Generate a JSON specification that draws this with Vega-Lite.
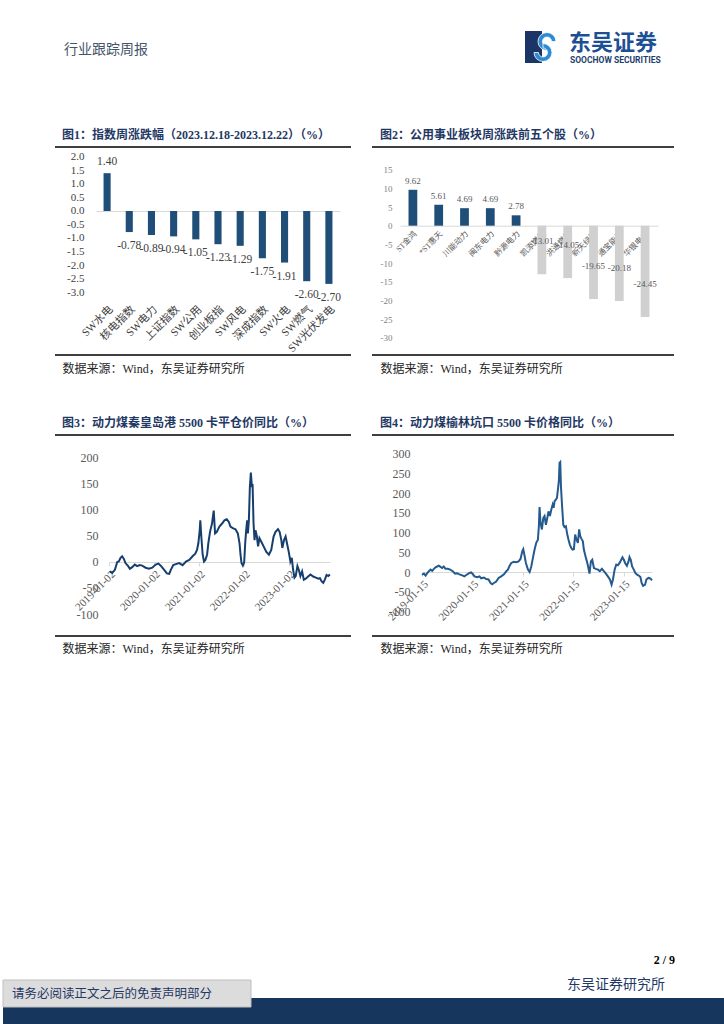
{
  "$schema": "https://vega.github.io/schema/vega-lite/v6.json",
  "padding": 0,
  "background": "white",
  "columns": 4,
  "spacing": 0,
  "bounds": "flush",
  "config": {
    "view": {"stroke": null},
    "locale": {"number": {"decimal": ".", "thousands": ",", "grouping": [3], "currency": ["", ""], "minus": "-"}},
    "font": "Liberation Serif, Noto Sans CJK SC",
    "concat": {"spacing": 0},
    "axis": {"grid": false, "labelFlush": false, "labelOverlap": false, "labelBound": false, "labelFont": "Liberation Serif, Noto Sans CJK SC", "titleFont": "Liberation Serif, Noto Sans CJK SC"},
    "title": {"font": "Liberation Serif, Noto Sans CJK SC"},
    "text": {"font": "Liberation Serif, Noto Sans CJK SC"}
  },
  "datasets": {
    "blank": [{}],
    "fig1": [
      {"name": "SW水电", "v": 1.40},
      {"name": "核电指数", "v": -0.78},
      {"name": "SW电力", "v": -0.89},
      {"name": "上证指数", "v": -0.94},
      {"name": "SW公用", "v": -1.05},
      {"name": "创业板指", "v": -1.23},
      {"name": "SW风电", "v": -1.29},
      {"name": "深成指数", "v": -1.75},
      {"name": "SW火电", "v": -1.91},
      {"name": "SW燃气", "v": -2.60},
      {"name": "SW光伏发电", "v": -2.70}
    ],
    "fig2": [
      {"name": "ST金鸿", "v": 9.62},
      {"name": "*ST惠天", "v": 5.61},
      {"name": "川能动力", "v": 4.69},
      {"name": "闽东电力", "v": 4.69},
      {"name": "黔源电力", "v": 2.78},
      {"name": "凯添燃气", "v": -13.01},
      {"name": "洪通燃气", "v": -14.05},
      {"name": "新天绿能", "v": -19.65},
      {"name": "通宝能源", "v": -20.18},
      {"name": "华银电力", "v": -24.45}
    ],
    "fig3": [
      {"d": "2019-01-07", "v": -18}, {"d": "2019-01-28", "v": -21}, {"d": "2019-02-19", "v": -15}, {"d": "2019-03-10", "v": 0},
      {"d": "2019-03-23", "v": 1}, {"d": "2019-04-06", "v": 8}, {"d": "2019-04-19", "v": 11}, {"d": "2019-05-03", "v": 6},
      {"d": "2019-05-16", "v": -2}, {"d": "2019-06-07", "v": -8}, {"d": "2019-06-21", "v": -13}, {"d": "2019-07-10", "v": -10},
      {"d": "2019-07-31", "v": -5}, {"d": "2019-08-19", "v": -8}, {"d": "2019-09-08", "v": -6}, {"d": "2019-09-29", "v": -7},
      {"d": "2019-10-27", "v": -11}, {"d": "2019-11-23", "v": -13}, {"d": "2019-12-20", "v": -11}, {"d": "2020-01-17", "v": -5},
      {"d": "2020-02-08", "v": -3}, {"d": "2020-02-27", "v": -7}, {"d": "2020-03-26", "v": -15}, {"d": "2020-04-17", "v": -22},
      {"d": "2020-05-06", "v": -23}, {"d": "2020-05-19", "v": -15}, {"d": "2020-06-08", "v": -6}, {"d": "2020-06-29", "v": -4},
      {"d": "2020-07-26", "v": -2}, {"d": "2020-08-23", "v": -6}, {"d": "2020-09-19", "v": 1}, {"d": "2020-10-16", "v": 4},
      {"d": "2020-11-12", "v": 11}, {"d": "2020-12-04", "v": 16}, {"d": "2020-12-18", "v": 23}, {"d": "2020-12-29", "v": 36},
      {"d": "2021-01-09", "v": 61}, {"d": "2021-01-14", "v": 80}, {"d": "2021-01-22", "v": 49}, {"d": "2021-02-02", "v": 14},
      {"d": "2021-02-13", "v": 1}, {"d": "2021-02-24", "v": 4}, {"d": "2021-03-10", "v": 14}, {"d": "2021-03-20", "v": 36},
      {"d": "2021-04-03", "v": 58}, {"d": "2021-04-19", "v": 74}, {"d": "2021-05-03", "v": 99}, {"d": "2021-05-14", "v": 55},
      {"d": "2021-05-28", "v": 58}, {"d": "2021-06-18", "v": 68}, {"d": "2021-07-10", "v": 74}, {"d": "2021-07-29", "v": 80},
      {"d": "2021-08-17", "v": 82}, {"d": "2021-09-03", "v": 77}, {"d": "2021-09-16", "v": 68}, {"d": "2021-10-05", "v": 65},
      {"d": "2021-10-27", "v": 63}, {"d": "2021-11-15", "v": 55}, {"d": "2021-11-29", "v": 36}, {"d": "2021-12-07", "v": 14},
      {"d": "2021-12-15", "v": -2}, {"d": "2021-12-26", "v": -7}, {"d": "2022-01-06", "v": 0}, {"d": "2022-01-14", "v": 36},
      {"d": "2022-01-22", "v": 61}, {"d": "2022-01-30", "v": 80}, {"d": "2022-02-05", "v": 55}, {"d": "2022-02-13", "v": 80},
      {"d": "2022-02-21", "v": 144}, {"d": "2022-03-01", "v": 172}, {"d": "2022-03-10", "v": 144}, {"d": "2022-03-15", "v": 150},
      {"d": "2022-03-23", "v": 74}, {"d": "2022-03-31", "v": 42}, {"d": "2022-04-08", "v": 61}, {"d": "2022-04-19", "v": 49},
      {"d": "2022-04-29", "v": 30}, {"d": "2022-05-10", "v": 46}, {"d": "2022-05-25", "v": 39}, {"d": "2022-06-13", "v": 30},
      {"d": "2022-07-04", "v": 20}, {"d": "2022-07-26", "v": 14}, {"d": "2022-08-14", "v": 23}, {"d": "2022-09-02", "v": 49},
      {"d": "2022-09-18", "v": 58}, {"d": "2022-10-08", "v": 63}, {"d": "2022-10-21", "v": 58}, {"d": "2022-11-04", "v": 42},
      {"d": "2022-11-12", "v": 27}, {"d": "2022-11-26", "v": 42}, {"d": "2022-12-09", "v": 49}, {"d": "2022-12-20", "v": 36},
      {"d": "2023-01-03", "v": 20}, {"d": "2023-01-17", "v": 1}, {"d": "2023-01-28", "v": 8}, {"d": "2023-02-08", "v": -15},
      {"d": "2023-02-19", "v": -30}, {"d": "2023-03-01", "v": -27}, {"d": "2023-03-15", "v": -8}, {"d": "2023-03-26", "v": -15},
      {"d": "2023-04-08", "v": -27}, {"d": "2023-04-22", "v": -18}, {"d": "2023-05-06", "v": -34}, {"d": "2023-05-22", "v": -32},
      {"d": "2023-06-10", "v": -28}, {"d": "2023-06-29", "v": -24}, {"d": "2023-07-21", "v": -28}, {"d": "2023-08-12", "v": -30},
      {"d": "2023-08-31", "v": -32}, {"d": "2023-09-14", "v": -31}, {"d": "2023-09-27", "v": -37}, {"d": "2023-10-11", "v": -40},
      {"d": "2023-10-24", "v": -34}, {"d": "2023-11-07", "v": -25}, {"d": "2023-11-21", "v": -27}, {"d": "2023-12-04", "v": -24}
    ],
    "fig4": [
      {"d": "2019-01-15", "v": -7}, {"d": "2019-01-29", "v": -4}, {"d": "2019-02-10", "v": -9}, {"d": "2019-02-22", "v": -3},
      {"d": "2019-03-06", "v": 2}, {"d": "2019-03-18", "v": 6}, {"d": "2019-03-30", "v": 3}, {"d": "2019-04-11", "v": 8},
      {"d": "2019-04-23", "v": 12}, {"d": "2019-05-05", "v": 14}, {"d": "2019-05-17", "v": 16}, {"d": "2019-05-29", "v": 13},
      {"d": "2019-06-10", "v": 10}, {"d": "2019-06-22", "v": 14}, {"d": "2019-07-04", "v": 8}, {"d": "2019-07-21", "v": 8},
      {"d": "2019-08-07", "v": 6}, {"d": "2019-08-26", "v": 2}, {"d": "2019-09-12", "v": -4}, {"d": "2019-09-27", "v": -3},
      {"d": "2019-10-13", "v": -6}, {"d": "2019-10-30", "v": -8}, {"d": "2019-11-18", "v": -11}, {"d": "2019-12-05", "v": -7},
      {"d": "2019-12-22", "v": -3}, {"d": "2020-01-06", "v": -1}, {"d": "2020-01-18", "v": -5}, {"d": "2020-01-30", "v": -11},
      {"d": "2020-02-19", "v": -13}, {"d": "2020-03-07", "v": -11}, {"d": "2020-03-19", "v": -16}, {"d": "2020-04-08", "v": -14},
      {"d": "2020-04-24", "v": -18}, {"d": "2020-05-11", "v": -19}, {"d": "2020-05-26", "v": -28}, {"d": "2020-06-07", "v": -31},
      {"d": "2020-06-19", "v": -28}, {"d": "2020-07-06", "v": -24}, {"d": "2020-07-23", "v": -15}, {"d": "2020-08-11", "v": -11},
      {"d": "2020-08-31", "v": -6}, {"d": "2020-09-17", "v": 2}, {"d": "2020-09-29", "v": 6}, {"d": "2020-10-11", "v": 16},
      {"d": "2020-10-23", "v": 23}, {"d": "2020-11-11", "v": 26}, {"d": "2020-11-28", "v": 25}, {"d": "2020-12-15", "v": 27},
      {"d": "2020-12-29", "v": 33}, {"d": "2021-01-11", "v": 53}, {"d": "2021-01-18", "v": 58}, {"d": "2021-01-28", "v": 40},
      {"d": "2021-02-06", "v": 23}, {"d": "2021-02-21", "v": 6}, {"d": "2021-03-05", "v": 0}, {"d": "2021-03-17", "v": 14},
      {"d": "2021-03-29", "v": 36}, {"d": "2021-04-10", "v": 57}, {"d": "2021-04-22", "v": 74}, {"d": "2021-05-04", "v": 82},
      {"d": "2021-05-11", "v": 116}, {"d": "2021-05-16", "v": 165}, {"d": "2021-05-23", "v": 125}, {"d": "2021-06-02", "v": 108},
      {"d": "2021-06-12", "v": 137}, {"d": "2021-06-21", "v": 142}, {"d": "2021-07-01", "v": 120}, {"d": "2021-07-11", "v": 137},
      {"d": "2021-07-20", "v": 154}, {"d": "2021-07-30", "v": 142}, {"d": "2021-08-09", "v": 158}, {"d": "2021-08-19", "v": 171},
      {"d": "2021-08-26", "v": 163}, {"d": "2021-09-02", "v": 180}, {"d": "2021-09-12", "v": 184}, {"d": "2021-09-19", "v": 188},
      {"d": "2021-09-26", "v": 209}, {"d": "2021-10-03", "v": 231}, {"d": "2021-10-08", "v": 277}, {"d": "2021-10-13", "v": 279},
      {"d": "2021-10-18", "v": 218}, {"d": "2021-10-25", "v": 175}, {"d": "2021-11-04", "v": 120}, {"d": "2021-11-13", "v": 114},
      {"d": "2021-11-23", "v": 116}, {"d": "2021-12-03", "v": 95}, {"d": "2021-12-12", "v": 82}, {"d": "2021-12-22", "v": 69},
      {"d": "2022-01-01", "v": 61}, {"d": "2022-01-10", "v": 57}, {"d": "2022-01-20", "v": 58}, {"d": "2022-01-29", "v": 95},
      {"d": "2022-02-08", "v": 82}, {"d": "2022-02-18", "v": 74}, {"d": "2022-02-27", "v": 108}, {"d": "2022-03-07", "v": 91},
      {"d": "2022-03-16", "v": 84}, {"d": "2022-03-26", "v": 78}, {"d": "2022-04-02", "v": 57}, {"d": "2022-04-14", "v": 40},
      {"d": "2022-04-24", "v": 27}, {"d": "2022-05-03", "v": 14}, {"d": "2022-05-13", "v": -4}, {"d": "2022-05-23", "v": 27},
      {"d": "2022-06-02", "v": 31}, {"d": "2022-06-14", "v": 10}, {"d": "2022-06-28", "v": 8}, {"d": "2022-07-13", "v": 6},
      {"d": "2022-07-27", "v": 2}, {"d": "2022-08-11", "v": 8}, {"d": "2022-08-25", "v": 2}, {"d": "2022-09-09", "v": -4},
      {"d": "2022-09-23", "v": -11}, {"d": "2022-10-08", "v": -19}, {"d": "2022-10-20", "v": -32}, {"d": "2022-10-30", "v": -19},
      {"d": "2022-11-11", "v": 6}, {"d": "2022-11-23", "v": 19}, {"d": "2022-12-05", "v": 17}, {"d": "2022-12-17", "v": 23},
      {"d": "2022-12-29", "v": 31}, {"d": "2023-01-07", "v": 37}, {"d": "2023-01-17", "v": 31}, {"d": "2023-01-26", "v": 23},
      {"d": "2023-02-08", "v": 16}, {"d": "2023-02-20", "v": 27}, {"d": "2023-02-27", "v": 38}, {"d": "2023-03-08", "v": 31},
      {"d": "2023-03-18", "v": 14}, {"d": "2023-03-30", "v": 6}, {"d": "2023-04-11", "v": -3}, {"d": "2023-04-23", "v": -7},
      {"d": "2023-05-05", "v": -9}, {"d": "2023-05-17", "v": -13}, {"d": "2023-05-26", "v": -28}, {"d": "2023-06-05", "v": -35},
      {"d": "2023-06-20", "v": -32}, {"d": "2023-06-29", "v": -19}, {"d": "2023-07-14", "v": -15}, {"d": "2023-07-28", "v": -16},
      {"d": "2023-08-09", "v": -21}
    ]
  },
  "concat": [
    {
      "width": 52, "height": 144,
      "data": {"name": "blank"},
      "layer": [
        {"mark": {"type": "text", "align": "left", "baseline": "middle", "fontSize": 14, "color": "#44546a", "font": "Noto Sans CJK SC"},
         "encoding": {"x": {"value": 61}, "y": {"value": 47}, "text": {"value": "行业跟踪周报"}}},
        {"mark": {"type": "rect", "color": "#1b3567"},
         "encoding": {"x": {"value": 522}, "x2": {"value": 539}, "y": {"value": 28}, "y2": {"value": 60}}},
        {"mark": {"type": "arc", "color": "#2f8ad6", "radius": 9, "radius2": 4.5, "theta": 3.1416, "theta2": 7.854, "stroke": "white", "strokeWidth": 0.8},
         "encoding": {"x": {"value": 544}, "y": {"value": 38.5}}},
        {"mark": {"type": "arc", "color": "#2f8ad6", "radius": 9, "radius2": 4.5, "theta": 0, "theta2": 4.712, "stroke": "white", "strokeWidth": 0.8},
         "encoding": {"x": {"value": 540}, "y": {"value": 49.5}}},
        {"mark": {"type": "text", "align": "left", "baseline": "middle", "fontSize": 22, "fontWeight": "bold", "color": "#1c4f93", "font": "Noto Sans CJK SC"},
         "encoding": {"x": {"value": 566}, "y": {"value": 40}, "text": {"value": "东吴证券"}}},
        {"mark": {"type": "text", "align": "left", "baseline": "middle", "fontSize": 8.5, "fontWeight": "bold", "color": "#1c3f6e", "font": "Roboto"},
         "encoding": {"x": {"value": 567}, "y": {"value": 57}, "text": {"value": "SOOCHOW SECURITIES"}}}
      ]
    },
    {"width": 1, "height": 1, "data": {"name": "blank"}, "mark": {"type": "point", "opacity": 0}},
    {"width": 1, "height": 1, "data": {"name": "blank"}, "mark": {"type": "point", "opacity": 0}},
    {"width": 1, "height": 1, "data": {"name": "blank"}, "mark": {"type": "point", "opacity": 0}},

    {"width": 1, "height": 1, "data": {"name": "blank"}, "mark": {"type": "point", "opacity": 0}},
    {
      "width": 296, "height": 208,
      "view": {"stroke": "#000000", "strokeWidth": 1.5, "strokeDash": [296, 208, 296, 208]},
      "title": {"text": "图1：指数周涨跌幅（2023.12.18-2023.12.22）（%）", "anchor": "start", "frame": "group", "dx": 7, "offset": 5, "fontSize": 12, "fontWeight": "bold", "color": "#1f3864"},
      "data": {"name": "fig1"},
      "layer": [
        {"mark": {"type": "bar", "color": "#1f4e79"},
         "encoding": {
           "x": {"field": "name", "type": "nominal", "sort": null,
             "scale": {"range": [41, 285], "paddingInner": 0.68, "paddingOuter": 0.34},
             "axis": {"orient": "bottom", "offset": -54, "labelAngle": -45, "domain": false, "ticks": false, "labelPadding": 2, "labelFontSize": 11, "labelColor": "#404040", "labelOverlap": false,
               "title": "数据来源：Wind，东吴证券研究所", "titleX": 7, "titleY": 67, "titleAlign": "left", "titleBaseline": "middle", "titleFontSize": 12, "titleFontWeight": "normal", "titleColor": "#262626"}},
           "y": {"field": "v", "type": "quantitative", "scale": {"domain": [-5.333, 2.37], "nice": false},
             "axis": {"offset": -31, "values": [-3, -2.5, -2, -1.5, -1, -0.5, 0, 0.5, 1, 1.5, 2], "format": ".1f", "domain": false, "ticks": false, "labelPadding": 2, "labelFontSize": 11, "labelColor": "#404040", "labelOverlap": false, "labelFlush": false, "labelSeparation": 0, "title": null}}
         }},
        {"mark": {"type": "point", "opacity": 0},
         "encoding": {"x": {"field": "name", "type": "nominal", "sort": null,
           "axis": {"orient": "top", "offset": -64, "labels": false, "ticks": false, "domain": true, "domainColor": "#d9d9d9", "domainWidth": 1, "title": null}}}},
        {"transform": [{"filter": "datum.v >= 0"}],
         "mark": {"type": "text", "dy": -11, "fontSize": 11.5, "color": "#404040"},
         "encoding": {"x": {"field": "name", "type": "nominal", "sort": null, "axis": null},
           "y": {"field": "v", "type": "quantitative",
             "axis": {"offset": -31, "values": [-3, -2.5, -2, -1.5, -1, -0.5, 0, 0.5, 1, 1.5, 2], "format": ".1f", "domain": false, "ticks": false, "labelPadding": 2, "labelFontSize": 11, "labelColor": "#404040", "labelOverlap": false, "labelFlush": false, "labelSeparation": 0, "title": null}},
           "text": {"field": "v", "type": "quantitative", "format": ".2f"}}},
        {"transform": [{"filter": "datum.v < 0"}],
         "mark": {"type": "text", "dy": 14, "fontSize": 11.5, "color": "#404040"},
         "encoding": {"x": {"field": "name", "type": "nominal", "sort": null, "axis": null},
           "y": {"field": "v", "type": "quantitative",
             "axis": {"offset": -31, "values": [-3, -2.5, -2, -1.5, -1, -0.5, 0, 0.5, 1, 1.5, 2], "format": ".1f", "domain": false, "ticks": false, "labelPadding": 2, "labelFontSize": 11, "labelColor": "#404040", "labelOverlap": false, "labelFlush": false, "labelSeparation": 0, "title": null}},
           "text": {"field": "v", "type": "quantitative", "format": ".2f"}}}
      ]
    },
    {"width": 21, "height": 1, "data": {"name": "blank"}, "mark": {"type": "point", "opacity": 0}},
    {
      "width": 302, "height": 208,
      "view": {"stroke": "#000000", "strokeWidth": 1.5, "strokeDash": [302, 208, 302, 208]},
      "title": {"text": "图2：公用事业板块周涨跌前五个股（%）", "anchor": "start", "frame": "group", "dx": 8, "offset": 5, "fontSize": 12, "fontWeight": "bold", "color": "#1f3864"},
      "data": {"name": "fig2"},
      "encoding": {
        "x": {"field": "name", "type": "nominal", "sort": null,
          "scale": {"range": [28, 286], "paddingInner": 0.66, "paddingOuter": 0.33},
          "axis": {"orient": "bottom", "offset": -129.3, "labelAngle": -45, "domain": true, "domainColor": "#d9d9d9", "ticks": false, "labelPadding": 4, "labelFontSize": 8, "labelColor": "#595959", "labelOverlap": false,
            "title": "数据来源：Wind，东吴证券研究所", "titleX": 8, "titleY": 142.3, "titleAlign": "left", "titleBaseline": "middle", "titleFontSize": 12, "titleFontWeight": "normal", "titleColor": "#262626"}},
        "y": {"field": "v", "type": "quantitative", "scale": {"domain": [-34.64, 21.08], "nice": false},
          "axis": {"offset": -22, "values": [-30, -25, -20, -15, -10, -5, 0, 5, 10, 15], "domain": false, "ticks": false, "labelPadding": 2, "labelFontSize": 9, "labelColor": "#7f7f7f", "labelOverlap": false, "labelFlush": false, "labelSeparation": 0, "title": null}}
      },
      "layer": [
        {"mark": {"type": "bar"},
         "encoding": {
           "color": {"condition": {"test": "datum.v < 0", "value": "#d0d0d0"}, "value": "#1f4e79"}
         }},
        {"transform": [{"filter": "datum.v >= 0"}],
         "mark": {"type": "text", "dy": -9, "fontSize": 9, "color": "#595959"},
         "encoding": {"text": {"field": "v", "type": "quantitative", "format": ".2f"}}},
        {"transform": [{"filter": "datum.v < 0"}],
         "mark": {"type": "text", "dy": -33, "fontSize": 9, "color": "#595959"},
         "encoding": {"text": {"field": "v", "type": "quantitative", "format": ".2f"}}}
      ]
    },

    {"width": 1, "height": 80, "data": {"name": "blank"}, "mark": {"type": "point", "opacity": 0}},
    {"width": 1, "height": 1, "data": {"name": "blank"}, "mark": {"type": "point", "opacity": 0}},
    {"width": 1, "height": 1, "data": {"name": "blank"}, "mark": {"type": "point", "opacity": 0}},
    {"width": 1, "height": 1, "data": {"name": "blank"}, "mark": {"type": "point", "opacity": 0}},

    {"width": 1, "height": 1, "data": {"name": "blank"}, "mark": {"type": "point", "opacity": 0}},
    {
      "width": 296, "height": 201,
      "view": {"stroke": "#000000", "strokeWidth": 1.5, "strokeDash": [296, 201, 296, 201]},
      "title": {"text": "图3：动力煤秦皇岛港 5500 卡平仓价同比（%）", "anchor": "start", "frame": "group", "dx": 7, "offset": 5, "fontSize": 12, "fontWeight": "bold", "color": "#1f3864"},
      "data": {"name": "fig3"},
      "mark": {"type": "line", "color": "#173f6e", "strokeWidth": 2},
      "encoding": {
        "x": {"field": "d", "type": "temporal",
          "scale": {"type": "utc", "domain": [{"year": 2019, "month": 1, "date": 2, "utc": true}, {"year": 2023, "month": 12, "date": 5, "utc": true}], "range": [54, 275]},
          "axis": {"orient": "bottom", "offset": -74, "format": "%Y-%m-%d", "labelAngle": -45, "domainColor": "#d9d9d9", "tickColor": "#d9d9d9", "tickSize": 4, "labelPadding": 2, "labelFontSize": 11, "labelColor": "#595959",
            "values": [{"year": 2019, "month": 1, "date": 2, "utc": true}, {"year": 2020, "month": 1, "date": 2, "utc": true}, {"year": 2021, "month": 1, "date": 2, "utc": true}, {"year": 2022, "month": 1, "date": 2, "utc": true}, {"year": 2023, "month": 1, "date": 2, "utc": true}],
            "title": "数据来源：Wind，东吴证券研究所", "titleX": 7, "titleY": 86, "titleAlign": "left", "titleBaseline": "middle", "titleFontSize": 12, "titleFontWeight": "normal", "titleColor": "#262626"}},
        "y": {"field": "v", "type": "quantitative", "scale": {"domain": [-142.3, 244.2], "nice": false},
          "axis": {"offset": -45, "values": [-100, -50, 0, 50, 100, 150, 200], "domain": false, "ticks": false, "labelPadding": 2, "labelFontSize": 12, "labelColor": "#595959", "title": null}}
      }
    },
    {"width": 1, "height": 1, "data": {"name": "blank"}, "mark": {"type": "point", "opacity": 0}},
    {
      "width": 302, "height": 201,
      "view": {"stroke": "#000000", "strokeWidth": 1.5, "strokeDash": [302, 201, 302, 201]},
      "title": {"text": "图4：动力煤榆林坑口 5500 卡价格同比（%）", "anchor": "start", "frame": "group", "dx": 8, "offset": 5, "fontSize": 12, "fontWeight": "bold", "color": "#1f3864"},
      "data": {"name": "fig4"},
      "mark": {"type": "line", "color": "#245a8d", "strokeWidth": 2},
      "encoding": {
        "x": {"field": "d", "type": "temporal",
          "scale": {"type": "utc", "domain": [{"year": 2019, "month": 1, "date": 15, "utc": true}, {"year": 2023, "month": 8, "date": 9, "utc": true}], "range": [50, 280]},
          "axis": {"orient": "bottom", "offset": -64, "format": "%Y-%m-%d", "labelAngle": -45, "domainColor": "#d9d9d9", "tickColor": "#d9d9d9", "tickSize": 4, "labelPadding": 2, "labelFontSize": 11, "labelColor": "#595959",
            "values": [{"year": 2019, "month": 1, "date": 15, "utc": true}, {"year": 2020, "month": 1, "date": 15, "utc": true}, {"year": 2021, "month": 1, "date": 15, "utc": true}, {"year": 2022, "month": 1, "date": 15, "utc": true}, {"year": 2023, "month": 1, "date": 15, "utc": true}],
            "title": "数据来源：Wind，东吴证券研究所", "titleX": 8, "titleY": 76, "titleAlign": "left", "titleBaseline": "middle", "titleFontSize": 12, "titleFontWeight": "normal", "titleColor": "#262626"}},
        "y": {"field": "v", "type": "quantitative", "scale": {"domain": [-162.4, 347.7], "nice": false},
          "axis": {"offset": -40, "values": [-100, -50, 0, 50, 100, 150, 200, 250, 300], "domain": false, "ticks": false, "labelPadding": 2, "labelFontSize": 12, "labelColor": "#595959", "title": null}}
      }
    },

    {
      "width": 52, "height": 391,
      "data": {"name": "blank"},
      "layer": [
        {"mark": {"type": "rect", "color": "#17365d"},
         "encoding": {"x": {"value": 0}, "x2": {"value": 724}, "y": {"value": 362}, "y2": {"value": 391}}},
        {"mark": {"type": "rect", "color": "#dcdcdc", "stroke": "#bfbfbf", "strokeWidth": 1},
         "encoding": {"x": {"value": 0}, "x2": {"value": 248}, "y": {"value": 344}, "y2": {"value": 371}}},
        {"mark": {"type": "text", "align": "left", "baseline": "middle", "fontSize": 12.5, "color": "#1f3864", "font": "Noto Sans CJK SC"},
         "encoding": {"x": {"value": 9}, "y": {"value": 358}, "text": {"value": "请务必阅读正文之后的免责声明部分"}}},
        {"mark": {"type": "text", "align": "right", "baseline": "middle", "fontSize": 14, "color": "#1f3864", "font": "Noto Sans CJK SC"},
         "encoding": {"x": {"value": 662}, "y": {"value": 349}, "text": {"value": "东吴证券研究所"}}},
        {"mark": {"type": "text", "align": "right", "baseline": "middle", "fontSize": 12, "fontWeight": "bold", "color": "#000000", "font": "Liberation Serif"},
         "encoding": {"x": {"value": 672}, "y": {"value": 324}, "text": {"value": "2 / 9"}}}
      ]
    },
    {"width": 1, "height": 1, "data": {"name": "blank"}, "mark": {"type": "point", "opacity": 0}},
    {"width": 1, "height": 1, "data": {"name": "blank"}, "mark": {"type": "point", "opacity": 0}},
    {"width": 1, "height": 1, "data": {"name": "blank"}, "mark": {"type": "point", "opacity": 0}}
  ]
}
